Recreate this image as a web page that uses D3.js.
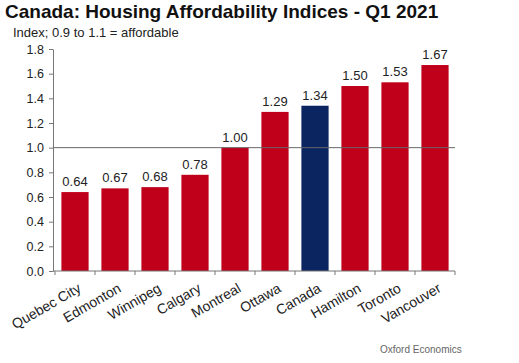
<!DOCTYPE html>
<html>
<head>
<meta charset="utf-8">
<script src="https://cdn.jsdelivr.net/npm/d3@7"></script>
<style>
  body { margin: 0; background: #fff; }
  text { font-family: Arial, "Liberation Sans", sans-serif; }
</style>
</head>
<body>
<svg id="chart" width="519" height="363"></svg>
<script>
// data
var cities = ['Quebec City', 'Edmonton', 'Winnipeg', 'Calgary', 'Montreal',
              'Ottawa', 'Canada', 'Hamilton', 'Toronto', 'Vancouver'];
var index_values = [0.64, 0.67, 0.68, 0.78, 1.00, 1.29, 1.34, 1.50, 1.53, 1.67];
var y_ticks = [0, 0.2, 0.4, 0.6, 0.8, 1.0, 1.2, 1.4, 1.6, 1.8];

var svg = d3.select('#chart');

var x = d3.scaleBand().domain(cities).range([55, 455]).paddingInner(0.32).paddingOuter(0.16);
var y = d3.scaleLinear().domain([0, 1.8]).range([271, 49]);

// title + subtitle
svg.append('text').attr('x', 5).attr('y', 18)
    .attr('font-size', '19px').attr('font-weight', 'bold').attr('fill', '#111')
    .text('Canada: Housing Affordability Indices - Q1 2021');
svg.append('text').attr('x', 13).attr('y', 37)
    .attr('font-size', '13px').attr('fill', '#222')
    .text('Index; 0.9 to 1.1 = affordable');

// y axis
var yAxis = svg.append('g').attr('transform', 'translate(53,0)')
    .call(d3.axisLeft(y).tickValues(y_ticks).tickFormat(d3.format('.1f')).tickSize(4).tickSizeOuter(0));
yAxis.select('.domain').attr('stroke', '#777');
yAxis.selectAll('.tick line').attr('stroke', '#777');
yAxis.selectAll('.tick text').attr('font-size', '12.5px').attr('fill', '#222').attr('x', -9);

// bars
svg.append('g').selectAll('rect').data(index_values).join('rect')
    .attr('x', function (d, i) { return x(cities[i]); })
    .attr('y', function (d) { return y(d); })
    .attr('width', x.bandwidth())
    .attr('height', function (d) { return y(0) - y(d); })
    .attr('fill', function (d, i) { return cities[i] === 'Canada' ? '#0b2560' : '#c0001a'; });

// value labels
svg.append('g').selectAll('text').data(index_values).join('text')
    .attr('x', function (d, i) { return x(cities[i]) + x.bandwidth() / 2; })
    .attr('y', function (d) { return y(d) - 6; })
    .attr('text-anchor', 'middle')
    .attr('font-size', '13px').attr('fill', '#222')
    .text(function (d) { return d.toFixed(2); });

// reference line at 1.0
svg.append('line')
    .attr('x1', 53).attr('x2', 455)
    .attr('y1', y(1)).attr('y2', y(1))
    .attr('stroke', '#666').attr('stroke-width', 1);

// x axis: ticks at band boundaries
var xAxisG = svg.append('g').attr('transform', 'translate(0,' + y(0) + ')');
xAxisG.append('line').attr('x1', 53).attr('x2', 455).attr('stroke', '#777');
var step = x.step();
var bounds = d3.range(cities.length + 1).map(function (i) { return 55 + i * step; });
xAxisG.selectAll('line.tk').data(bounds).join('line').attr('class', 'tk')
    .attr('x1', function (d) { return d; }).attr('x2', function (d) { return d; })
    .attr('y1', 0).attr('y2', 4).attr('stroke', '#777');

xAxisG.selectAll('text').data(cities).join('text')
    .attr('text-anchor', 'end')
    .attr('font-size', '14px').attr('fill', '#222')
    .attr('transform', function (d) {
        var cx = x(d) + x.bandwidth() / 2 + 7;
        return 'translate(' + cx + ',20) rotate(-30)';
    })
    .text(function (d) { return d; });

// source
svg.append('text').attr('x', 380).attr('y', 353)
    .attr('font-size', '10px').attr('fill', '#666')
    .attr('font-family', '"Open Sans", sans-serif')
    .text('Oxford Economics');
</script>
</body>
</html>
